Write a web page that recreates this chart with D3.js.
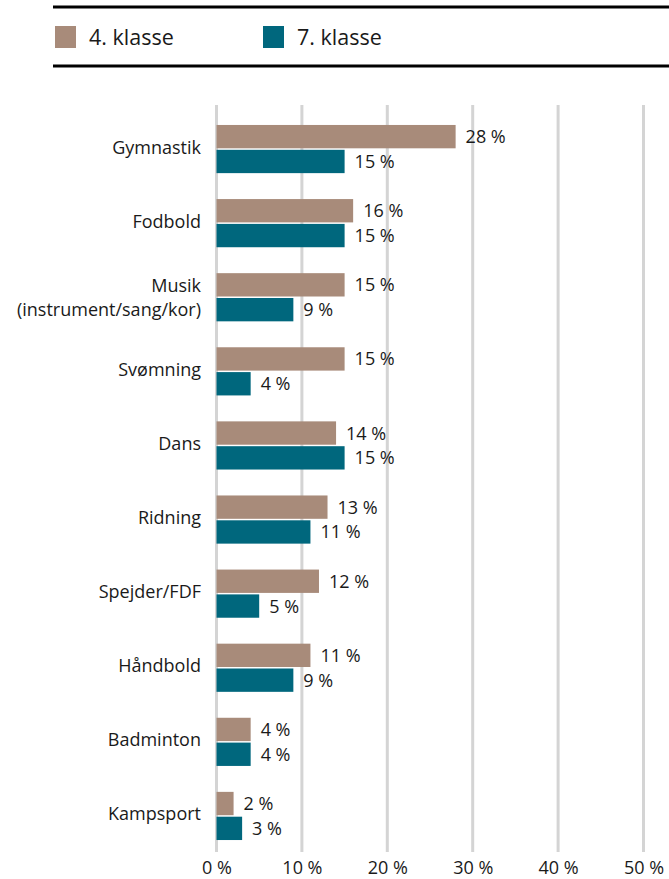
<!DOCTYPE html>
<html>
<head>
<meta charset="utf-8">
<script src="https://cdn.jsdelivr.net/npm/d3@7"></script>
<style>
  html, body { margin: 0; padding: 0; background: #fff; }
  svg { display: block; font-family: "Open Sans", "Noto Sans", sans-serif; }
</style>
</head>
<body>
<svg id="chart" width="669" height="879"></svg>
<script>
const categories = ["Gymnastik", "Fodbold", "Musik\n(instrument/sang/kor)", "Svømning", "Dans", "Ridning", "Spejder/FDF", "Håndbold", "Badminton", "Kampsport"];
const seriesNames = ["4. klasse", "7. klasse"];
const values4 = [28, 16, 15, 15, 14, 13, 12, 11, 4, 2];
const values7 = [15, 15, 9, 4, 15, 11, 5, 9, 4, 3];
const tickValues = [0, 10, 20, 30, 40, 50];
const colors = ["#a88b7a", "#00677d"];

const data = categories.map((c, i) => ({ cat: c, vals: [values4[i], values7[i]] }));

const svg = d3.select("#chart");

const x = d3.scaleLinear().domain([0, 50]).range([216.5, 643.5]);
const y = d3.scaleBand().domain(categories).range([112, 853]).paddingInner(0.35).paddingOuter(0.175);
const ySub = d3.scaleBand().domain(seriesNames).range([0, y.bandwidth()]).paddingInner(0.06);
const color = d3.scaleOrdinal().domain(seriesNames).range(colors);

const FS = 18;

// Legend
svg.append("line").attr("x1", 53).attr("x2", 669).attr("y1", 7).attr("y2", 7)
  .attr("stroke", "#000").attr("stroke-width", 3);
svg.append("line").attr("x1", 53).attr("x2", 669).attr("y1", 66).attr("y2", 66)
  .attr("stroke", "#000").attr("stroke-width", 3);
const legendX = [55, 263];
seriesNames.forEach((s, i) => {
  const g = svg.append("g").attr("transform", `translate(${legendX[i]},26)`);
  g.append("rect").attr("width", 21).attr("height", 22).attr("fill", color(s));
  g.append("text").attr("x", 34).attr("y", 19).attr("font-size", 21.5).attr("fill", "#1a1a1a").text(s);
});

// Gridlines
svg.append("g").selectAll("line").data(tickValues).join("line")
  .attr("x1", d => x(d)).attr("x2", d => x(d))
  .attr("y1", 105).attr("y2", 852)
  .attr("stroke", "#d4d4d4").attr("stroke-width", 3);

// Tick labels via axis
const xAxis = d3.axisBottom(x).tickValues(tickValues).tickFormat(d => d + " %").tickSize(0).tickPadding(0);
const axisG = svg.append("g").attr("transform", "translate(0,857)").call(xAxis);
axisG.select(".domain").remove();
axisG.selectAll("text").attr("font-size", FS).attr("fill", "#1a1a1a")
  .attr("font-family", "'Open Sans', 'Noto Sans', sans-serif").attr("dy", "0.95em");

// Bars
const groups = svg.append("g").selectAll("g").data(data).join("g")
  .attr("transform", d => `translate(0,${y(d.cat)})`);

groups.selectAll("rect").data(d => d.vals.map((v, i) => ({ s: seriesNames[i], v })))
  .join("rect")
  .attr("x", x(0))
  .attr("y", d => ySub(d.s))
  .attr("width", d => x(d.v) - x(0))
  .attr("height", ySub.bandwidth())
  .attr("fill", d => color(d.s));

groups.selectAll("text.val").data(d => d.vals.map((v, i) => ({ s: seriesNames[i], v })))
  .join("text").attr("class", "val")
  .attr("x", d => x(d.v) + 10)
  .attr("y", d => ySub(d.s) + ySub.bandwidth() / 2)
  .attr("dy", "0.36em")
  .attr("font-size", FS).attr("fill", "#1a1a1a")
  .text(d => d.v + " %");

// Category labels
groups.each(function(d) {
  const lines = d.cat.split("\n");
  const t = d3.select(this).append("text")
    .attr("text-anchor", "end").attr("font-size", FS).attr("fill", "#1a1a1a");
  const lh = 24;
  const c = y.bandwidth() / 2;
  lines.forEach((ln, i) => {
    t.append("tspan").attr("x", 201)
      .attr("y", c + (i - (lines.length - 1) / 2) * lh - (lines.length > 1 ? 0 : 2))
      .attr("dy", "0.36em").text(ln);
  });
});
</script>
</body>
</html>
